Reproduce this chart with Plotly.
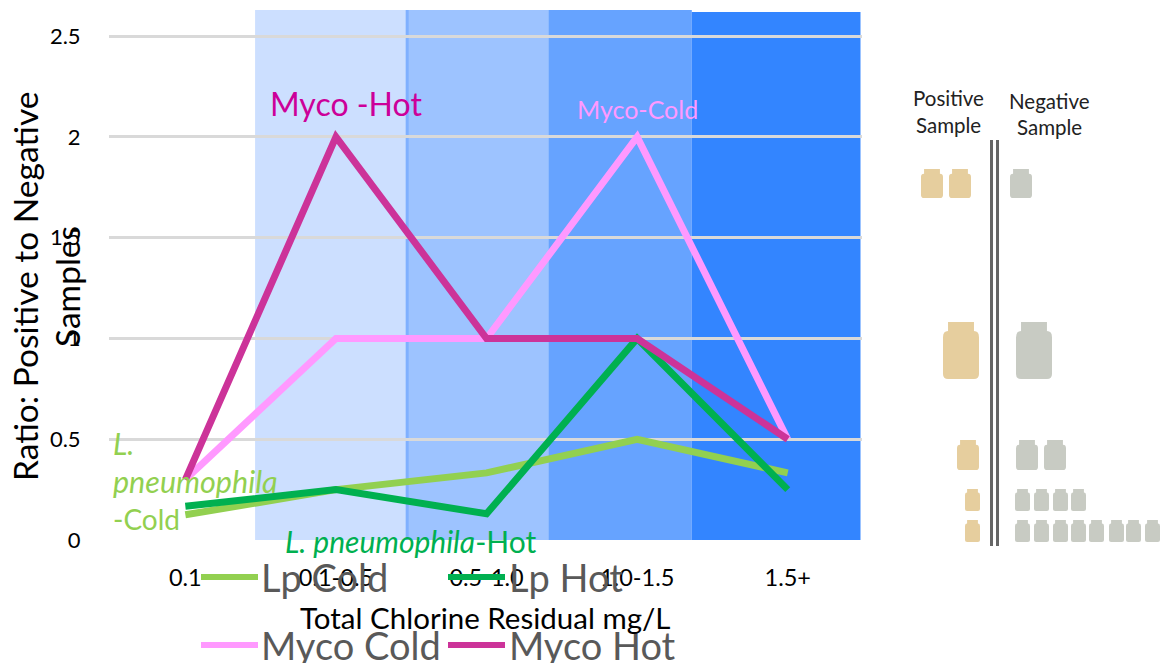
import plotly.graph_objects as go

categories = ["0.1", "0.1-0.5", "0.5-1.0", "1.0-1.5", "1.5+"]
lp_cold = [0.125, 0.25, 0.333, 0.5, 0.333]
lp_hot = [0.167, 0.25, 0.13, 1, 0.25]
myco_cold = [0.3, 1, 1, 2, 0.5]
myco_hot = [0.3, 2, 1, 1, 0.5]
y_ticks = [0, 0.5, 1, 1.5, 2, 2.5]
y_tick_labels = ["0", "0.5", "1", "1.5", "2", "2.5"]
positive_bottles = [2, 1, 1, 1, 1]
negative_bottles = [1, 1, 2, 4, 8]

W, H = 1161, 663
L, R, T, B = 109, 299, 10, 123
PW, PH = W - L - R, H - T - B
FONT = "Lato"
C_LPC, C_LPH, C_MC, C_MH = "#92D050", "#00B050", "#FF99FF", "#CC3399"


def px(x):
    return (x - L) / PW


def py(y):
    return 1 - (y - T) / PH


series = [("Lp Cold", lp_cold, C_LPC), ("Lp Hot", lp_hot, C_LPH),
          ("Myco Cold", myco_cold, C_MC), ("Myco Hot", myco_hot, C_MH)]

fig = go.Figure()
for name, vals, col in series:
    fig.add_trace(go.Scatter(x=categories, y=vals, name=name, mode="lines",
                             line=dict(color=col, width=7), showlegend=False))

shapes = []
# shaded chlorine bands (category-axis units in x)
bands = [(0.463, 1.473, "#CCDFFF", 2.63), (1.473, 2.423, "#9DC3FF", 2.63),
         (2.413, 3.363, "#66A3FF", 2.63), (3.363, 4.483, "#3385FF", 2.62)]
for x0, x1, col, top in bands:
    shapes.append(dict(type="rect", xref="x", yref="y", x0=x0, x1=x1, y0=0, y1=top,
                       fillcolor=col, line_width=0, layer="below"))
shapes.append(dict(type="rect", xref="x", yref="y", x0=1.463, x1=1.483, y0=0, y1=2.63,
                   fillcolor="#7FB0FF", line_width=0, layer="below"))

annotations = []


def text(x, y, s, size, color, xanchor="left", angle=0, family=FONT):
    annotations.append(dict(xref="paper", yref="paper", x=px(x), y=py(y), text=s,
                            showarrow=False, xanchor=xanchor, yanchor="middle",
                            textangle=angle, align="center",
                            font=dict(size=size, color=color, family=family)))


# legend drawn by hand, overlapping the axis labels as in the source
legend_pos = [(201, 577, 259, "Lp Cold"), (448, 577, 507, "Lp Hot"),
              (201, 645, 259, "Myco Cold"), (448, 645, 507, "Myco Hot")]
for (lx, ly, tx, name), (_, _, col) in zip(legend_pos, series):
    shapes.append(dict(type="line", xref="paper", yref="paper", x0=px(lx), x1=px(lx + 57),
                       y0=py(ly), y1=py(ly), line=dict(color=col, width=6)))
    text(tx, ly, name, 38, "#595959")

# direct labels
text(268, 104, "Myco -Hot", 32, "#CC0099")
text(575, 109, "Myco-Cold", 25, C_MC)
text(111, 443, "<i>L.</i>", 30, C_LPC)
text(111, 481, "<i>pneumophila</i>", 30.5, C_LPC)
text(111, 519, "-Cold", 28, C_LPC)
text(283, 541, "<i>L. pneumophila</i>-Hot", 30, C_LPH)

# axis titles
text(25, 287, "Ratio: Positive to Negative", 33.5, "#000000", "center", -90)
text(67, 287, "Samples", 33.5, "#000000", "center", -90)
text(485, 617, "Total Chlorine Residual mg/L", 29.5, "#000000", "center")

# bottle panel
text(949, 98, "Positive", 20.5, "#222222", "center")
text(949, 125, "Sample", 20.5, "#222222", "center")
text(1049, 101, "Negative", 20.5, "#222222", "center")
text(1049, 127, "Sample", 20.5, "#222222", "center")

for lx in (991.5, 997.5):
    shapes.append(dict(type="line", xref="paper", yref="paper", x0=px(lx), x1=px(lx),
                       y0=py(140), y1=py(546), line=dict(color="#666666", width=3)))


def bottle(x0, y0, w, h, color):
    """Pixel box to a simple rounded bottle outline in paper units."""
    nx = w * 0.14
    nh = h * 0.16
    r = w * 0.14
    x1, y1 = x0 + w, y0 + h
    sy = y0 + nh * 1.7
    def p(a, b):
        return f"{px(a):.5f} {py(b):.5f}"
    path = (f"M {p(x0 + nx, y0)} L {p(x1 - nx, y0)} L {p(x1 - nx, y0 + nh)} "
            f"Q {p(x1, y0 + nh)} {p(x1, sy)} L {p(x1, y1 - r)} Q {p(x1, y1)} {p(x1 - r, y1)} "
            f"L {p(x0 + r, y1)} Q {p(x0, y1)} {p(x0, y1 - r)} L {p(x0, sy)} "
            f"Q {p(x0, y0 + nh)} {p(x0 + nx, y0 + nh)} Z")
    shapes.append(dict(type="path", xref="paper", yref="paper", path=path,
                       fillcolor=color, line_width=0))


TAN, GREY = "#E6CE9E", "#C8CBC3"
row_geom = [  # top, height, width, positive lefts, negative lefts
    (169, 29, 22, [921, 949], [1010]),
    (322, 57, 36, [943], [1016]),
    (440, 30, 22, [957], [1016, 1044]),
    (489, 22, 15, [965], [1015, 1034, 1053, 1071]),
    (520, 22, 15, [965], [1015, 1034, 1053, 1071, 1089, 1109, 1126, 1145]),
]
for (top, h, w, pos_x, neg_x), np_, nn in zip(row_geom, positive_bottles, negative_bottles):
    for x in pos_x[:np_]:
        bottle(x, top, w, h, TAN)
    for x in neg_x[:nn]:
        bottle(x, top, w, h, GREY)

fig.update_layout(
    width=W, height=H, autosize=False,
    margin=dict(l=L, r=R, t=T, b=B, pad=0),
    paper_bgcolor="rgba(0,0,0,0)", plot_bgcolor="rgba(0,0,0,0)",
    showlegend=False, shapes=shapes, annotations=annotations,
    font=dict(family=FONT, color="#000000"),
    xaxis=dict(type="category", categoryorder="array", categoryarray=categories,
               range=[-0.507, 4.493], showgrid=False, showline=False, zeroline=False,
               ticks="outside", ticklen=17, tickcolor="rgba(0,0,0,0)",
               tickfont=dict(size=23.5, color="#000000", family=FONT)),
    yaxis=dict(range=[0, 2.63], tickvals=y_ticks, ticktext=y_tick_labels,
               showgrid=True, gridcolor="#D9D9D9", gridwidth=2.5, zeroline=False,
               showline=False, ticks="outside", ticklen=23, tickcolor="rgba(0,0,0,0)",
               tickfont=dict(size=22, color="#000000", family=FONT)),
)

fig.write_html("out.html", config={"displayModeBar": False},
               post_script="document.body.style.margin='0';document.documentElement.style.overflow='hidden';")
